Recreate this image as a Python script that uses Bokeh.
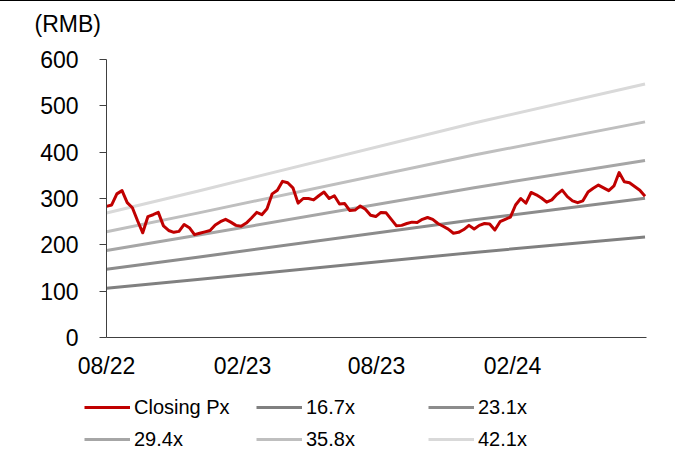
import pandas as pd
from bokeh.plotting import figure
from bokeh.layouts import column, row
from bokeh.models import (Range1d, FixedTicker, DatetimeTickFormatter, Legend,
                          LegendItem, Title)
from bokeh.embed import file_html
from bokeh.resources import INLINE

# ---- data -------------------------------------------------------------
first_week = "2022-08-01"
closing_px = [
    283, 286, 310, 317, 291, 280, 252, 226, 261, 265,
    270, 241, 231, 227, 229, 244, 237, 222, 225, 228,
    231, 243, 250, 255, 249, 242, 240, 247, 258, 270,
    265, 278, 310, 318, 337, 334, 323, 290, 300, 300,
    297, 306, 314, 300, 306, 288, 289, 274, 275, 284,
    277, 264, 261, 270, 269, 255, 241, 242, 246, 249,
    248, 255, 259, 255, 246, 240, 234, 225, 227, 233,
    242, 234, 242, 246, 245, 232, 250, 255, 260, 286,
    300, 290, 313, 308, 301, 292, 297, 309, 318, 304,
    295, 291, 295, 314, 322, 329, 323, 317, 327, 356,
    336, 334, 326, 318, 305,
]
band_dates = ["2022-08-01", "2022-12-02", "2023-12-11", "2024-07-29"]
eps = [6.38, 7.50, 11.00, 13.00]
multiples = [16.7, 23.1, 29.4, 35.8, 42.1]
band_labels = ["16.7x", "23.1x", "29.4x", "35.8x", "42.1x"]
x_tick_dates = ["2022-08-01", "2023-02-01", "2023-08-01", "2024-02-01"]
y_ticks = [0, 100, 200, 300, 400, 500, 600]

# ---- styles -----------------------------------------------------------
FONT = "Liberation Sans"
RED = "#C00000"
band_colors = ["#808080", "#8C8C8C", "#A6A6A6", "#BFBFBF", "#D9D9D9"]

dates = pd.date_range(first_week, periods=len(closing_px), freq="7D")
bdates = pd.to_datetime(band_dates)

p = figure(width=675, height=380, x_axis_type="datetime",
           x_range=Range1d(pd.Timestamp("2022-08-01"), pd.Timestamp("2024-07-31")),
           y_range=Range1d(0, 600),
           output_backend="svg", toolbar_location=None,
           min_border_left=106, min_border_right=29,
           min_border_top=58, min_border_bottom=42,
           title="(RMB)")
p.styles = {"border-top": "1px solid #000000"}
p.outline_line_color = None
p.xgrid.visible = False
p.ygrid.visible = False
p.background_fill_color = "white"
p.border_fill_color = "white"

p.title.text_font = FONT
p.title.text_font_size = "23px"
p.title.text_font_style = "normal"
p.title.text_color = "#000000"
p.title.align = "left"
p.title.offset = -72
p.title.standoff = 0

# blank spacer between the frame and the unit title
p.add_layout(Title(text=" ", text_font_size="10px", standoff=10), "above")

band_renderers = []
for m, c in zip(multiples, band_colors):
    vals = [e * m for e in eps]
    r = p.line(bdates, vals, line_color=c, line_width=3, line_join="round")
    band_renderers.append(r)
red = p.line(dates, closing_px, line_color=RED, line_width=3, line_join="round")

# axes
xa = p.xaxis[0]
xa.ticker = FixedTicker(ticks=[pd.Timestamp(d).value / 1e6 for d in x_tick_dates])
xa.formatter = DatetimeTickFormatter(days="%m/%y", months="%m/%y", years="%m/%y")
xa.major_tick_out = 0
xa.major_tick_in = 0
xa.minor_tick_out = 0
xa.minor_tick_in = 0
xa.major_label_standoff = 15
xa.axis_line_color = "#404040"
xa.axis_line_width = 1

ya = p.yaxis[0]
ya.ticker = FixedTicker(ticks=y_ticks)
ya.major_tick_out = 7
ya.major_tick_in = 0
ya.minor_tick_out = 0
ya.minor_tick_in = 0
ya.major_label_standoff = 21
ya.axis_line_color = "#404040"
ya.major_tick_line_color = "#404040"

for ax in (xa, ya):
    ax.major_label_text_font = FONT
    ax.major_label_text_font_size = "23px"
    ax.major_label_text_color = "#000000"

# ---- legend panel (separate figure below) ------------------------------
lg = figure(width=675, height=74, x_range=Range1d(0, 1), y_range=Range1d(0, 1),
            output_backend="svg", toolbar_location=None,
            x_axis_location=None, y_axis_location=None,
            min_border_left=84, min_border_right=29,
            min_border_top=0, min_border_bottom=0)
lg.outline_line_color = None
lg.xgrid.visible = False
lg.ygrid.visible = False

names = ["Closing Px"] + band_labels
colors = [RED] + band_colors
items = []
for lab, c in zip(names, colors):
    # stand-in renderer (off-range) used only for its legend swatch
    r = lg.line([2, 3], [2, 2], line_color=c, line_width=3)
    items.append(LegendItem(label=lab, renderers=[r]))

legend = Legend(items=items, ncols=3, orientation="horizontal",
                location=(0, -1),
                glyph_width=46, glyph_height=32, label_width=122,
                label_height=32, label_standoff=4, spacing=0, padding=0,
                margin=0, border_line_color=None, background_fill_alpha=0,
                label_text_font=FONT, label_text_font_size="20px",
                label_text_color="#000000")
lg.add_layout(legend)

layout = column(p, row(lg), spacing=0)
open("out.html", "w").write(file_html(layout, INLINE))
